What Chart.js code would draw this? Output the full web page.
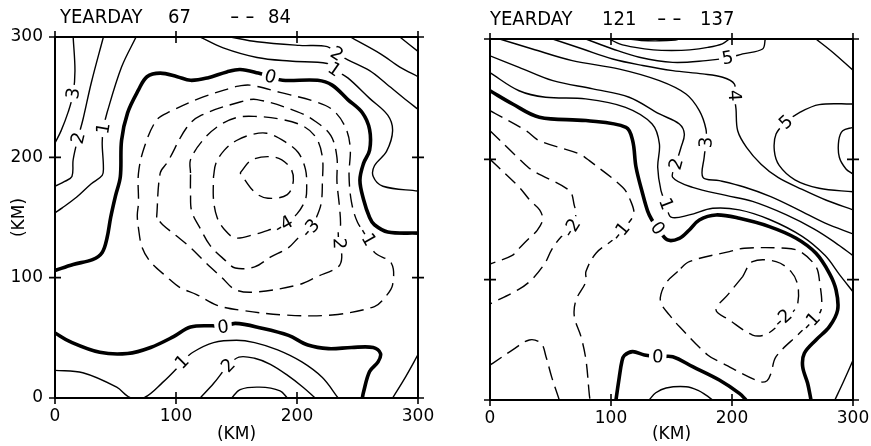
<!DOCTYPE html>
<html>
<head>
<meta charset="utf-8">
<script src="https://cdn.jsdelivr.net/npm/chart.js@4.4.1/dist/chart.umd.min.js"></script>
<style>
  html, body { margin: 0; padding: 0; background: #fff; }
  #wrap { position: relative; width: 871px; height: 446px; overflow: hidden; }
  canvas { position: absolute; top: 0; }
  #left { left: 0; }
  #right { left: 435px; }
</style>
</head>
<body>
<div id="wrap">
  <canvas id="left" width="435" height="446" style="width:435px;height:446px"></canvas>
  <canvas id="right" width="436" height="446" style="width:436px;height:446px"></canvas>
</div>
<script>
// ---------- axes ----------
const tickValues = [0, 100, 200, 300];
const axisTitle = '(KM)';
const leftTitle = ['YEARDAY', '67', '--', '84'];
const rightTitle = ['YEARDAY', '121', '--', '137'];

// ---------- YEARDAY 67 -- 84 : contour lines, [x km, y km] ----------
const L_p3 = [[15,300],[16.5,272],[15,253],[11,238],[5,222],[0,212]];
const L_p2 = [[40,300],[30,262],[23,231],[19,216],[15,198],[14,184],[8,180],[0,176]];
const L_p1 = [[67,300],[55,275],[43,237],[40,224],[39,212],[40,192],[39,185],[30,178],[18,167],[6,158],[0,154]];
const L_z0a = [[0,106],[15,111],[31,115],[39,121],[43,133],[46,150],[50,168],[54,184],[55,214],[60,237],[69,256],[76,267],[87,270],[101,267],[112,264],[126,266],[142,271],[153,273],[168,270],[178,267],[188,264],[217,264],[229,260],[242,248],[254,237],[260,223],[260,206],[255,195],[252,181],[255,165],[260,150],[264,144],[275,138],[300,137]];
const L_z0b = [[0,54],[12,47],[37,38],[60,37],[79,42],[98,51],[112,59],[130,60],[139,59],[149,62],[171,58],[193,52],[209,44],[226,41],[245,42],[263,42],[269,37],[267,30],[260,22],[255,5],[254,0]];
const L_p1b = [[0,23],[23,21],[51,9],[62,0.5],[74,0.5],[89,13],[101,25],[105,30],[114,38],[131,46],[150,48],[165,46],[184,40],[204,30],[221,17],[234,0]];
const L_p2b = [[120,0],[131,12],[143,27],[152,34],[165,33],[178,28],[192,19],[205,9],[215,0]];
const L_p3b = [[146,0],[153,7],[169,9],[186,6],[192,0]];
const L_p1c = [[279,0],[290,18],[300,36]];
const L_p1t = [[120,300],[139,291],[167,283],[194,280],[225,278],[231,273],[242,266],[260,249],[275,235],[279,222],[274,205],[264,193],[263,184],[271,176],[300,172]];
const L_p2t = [[145,300],[167,296],[202,293],[225,292],[233,286],[242,281],[260,272],[274,261],[291,247],[300,240]];
const L_p3t = [[244,300],[269,286],[285,275],[300,267]];
const L_p4t = [[285,300],[300,288]];
const L_n1 = [[150,259],[161,260],[186,254],[216,246],[230,239],[240,225],[244,208],[243,185],[245,163],[250,146],[258,134],[264,121],[278,112],[279,94],[273,84],[264,76],[229,69],[190,69],[153,73],[134,77],[117,86],[103,92],[92,101],[79,113],[72,125],[69,141],[68,152],[69,162],[69,187],[74,209],[84,231],[95,238],[122,250],[150,259]];
const L_n2 = [[84,150],[87,187],[93,196],[109,225],[121,235],[153,246],[167,248],[200,238],[215,230],[228,218],[233,200],[233,180],[235,160],[236,145],[235,131],[237,117],[234,109],[217,101],[201,94],[165,88],[149,90],[138,100],[125,112],[112,125],[100,135],[89,144],[84,150]];
const L_n3 = [[112,187],[112,198],[122,214],[135,226],[150,233],[165,234],[185,232],[205,226],[216,216],[221,200],[221,180],[220,162],[216,150],[211,141],[201,133],[193,125],[178,117],[165,109],[149,108],[140,115],[128,127],[120,141],[113,155],[112,170],[112,187]];
const L_n4 = [[131,184],[133,195],[140,206],[150,214],[163,219],[175,220],[190,213],[201,204],[207,190],[208,175],[207,165],[200,153],[189,144],[178,140],[165,136],[149,133],[140,140],[134,150],[131,165],[131,184]];
const L_n5 = [[153,187],[163,198],[182,200],[194,192],[197,181],[192,169],[176,166],[165,171],[153,187]];

const leftLines = [
  [3, L_p3], [2, L_p2], [1, L_p1], [0, L_z0a], [0, L_z0b], [1, L_p1b], [2, L_p2b],
  [3, L_p3b], [1, L_p1c], [1, L_p1t], [2, L_p2t], [3, L_p3t], [4, L_p4t],
  [-1, L_n1], [-2, L_n2], [-3, L_n3], [-4, L_n4], [-5, L_n5]
];
const leftLabels = [
  [L_p3, 15, 253], [L_p2, 19, 216], [L_p1, 40, 224], [L_z0a, 178, 267],
  [L_p2t, 233, 286], [L_p1t, 231, 273], [L_n4, 189, 144], [L_n3, 211, 141],
  [L_n2, 235, 131], [L_n1, 258, 134], [L_z0b, 139, 59], [L_p1b, 105, 30], [L_p2b, 143, 27]
];

// ---------- YEARDAY 121 -- 137 : contour lines, [x km, y km] ----------
const R_p1 = [[0,272],[24,257],[46,251.6],[79,250.2],[112,243.2],[134,229.4],[140,212.8],[138.6,193.4],[141.3,174],[145.5,163],[149.6,152],[164.7,153.8],[184,159.3],[206,158],[231,150],[258,136],[277,120],[289,104],[300,90]];
const R_p2 = [[0,286],[24,276.5],[52,265.4],[85,258.5],[115,251.6],[140,237.7],[156.5,229.4],[160.6,221],[157.9,210],[153.7,196.1],[151,185],[167.5,176.7],[195,170],[217,165],[244.6,154],[268,142],[285,131],[300,120]];
const R_p3 = [[8,300],[35,291.7],[68,282],[107,275],[140,265.4],[162,254.3],[173,240.5],[178.5,225],[178.5,214],[177,201.7],[176,185],[189.5,182.3],[210,177],[232,169],[255,158],[277,147],[300,138]];
const R_p4 = [[51.8,300],[76.6,291.7],[101.4,283.4],[126.2,278],[151,273.7],[175.8,271],[192.3,268.2],[202,262.6],[202,253],[203.3,241.9],[204.7,223.8],[212,210],[224,196],[238,185],[258,175],[278,166],[300,158]];
const R_p5t = [[79.3,300],[101.4,291.7],[123.4,284.8],[151,280.6],[178.5,282],[196.4,284.3],[208.8,287.6],[225.3,291.7],[227.5,300]];
const R_p5b = [[300,246],[272,245.5],[256,239],[244.6,230.8],[236.4,221],[235,207],[239,195],[252,183],[272,176],[300,173]];
const R_p6t = [[98.6,300],[107,296],[120,293],[135,291],[150,290.5],[165,291],[180,293],[192,296],[197.8,300]];
const R_p7t = [[115,300],[125,298.8],[140,298.5],[153,299.2],[157,300]];
const R_p6r = [[300,226.6],[291.5,223.8],[288.2,215.5],[288.7,201.7],[294.2,192],[300,187.8]];
const R_p4c = [[269.4,300],[283.2,289],[300,274]];
const R_z0a = [[0,257],[18.7,246],[40.8,235],[79.3,232.2],[112.4,226.6],[117.9,215.5],[120.7,193.4],[126.2,171.2],[130.3,157],[133.6,150],[138.6,142.7],[146.8,133],[156.5,134.4],[164.7,141.3],[173,149.6],[186.8,153.8],[206.1,151],[230.9,144.1],[253,134.4],[269.4,121.9],[280.5,105.3],[286,91.4],[287.3,74.8],[280.5,61],[269.4,49.9],[259.8,38.8],[258.4,27.7],[262.5,13.9],[265.3,0]];
const R_z0b = [[104.1,0],[106.9,19.4],[109,32],[111,37],[117.9,40.2],[127.6,37.4],[138.6,36],[151,36],[167.5,27.7],[189.5,16.6],[206.1,5.5],[211.6,0]];
const R_p1s = [[131.5,0],[137,6],[145.5,10],[162,11],[172,8],[178.5,4],[184,0]];
const R_p1r = [[285,0],[292,15],[300,33]];
const R_n1a = [[0,240.5],[29.8,223.8],[40.8,215.5],[73.8,204.5],[82.1,198.9],[109.6,176.7],[116,166],[118.6,154],[108,140],[101.4,133],[87.6,122],[79.3,106.7],[79.3,98.4],[71.1,83.1],[69.7,69.3],[75.2,52.7],[79.3,33.3],[82.1,4.2],[82.7,0]];
const R_n2a = [[0,223.8],[24.2,200.3],[35.3,190.6],[65.6,174],[69.7,161.5],[71,154.6],[67.5,143],[59.2,136],[51,125],[45.5,113.8],[34.4,100],[23.4,91.7],[1.4,80.6],[0,80]];
const R_n3a = [[0,200],[24,177],[33,166],[41,158],[43.5,150],[39,141],[33,135],[25,127],[18,120],[0,113]];
const R_n2c = [[0,29],[2.2,30.5],[18.7,41.6],[32.5,49.9],[42.2,47.1],[46.3,36],[51,19],[57.3,0]];
const R_n1b = [[155.1,106.7],[146,98],[141.3,88],[141.3,80.4],[148.2,70.7],[156.5,61],[179.9,37.4],[192.3,30.5],[222.6,15.3],[229,16],[232.2,22.2],[236.4,36],[255.7,55.4],[265.3,65.1],[273.6,74.8],[272.2,99.8],[269.4,110.8],[257,123],[244.6,126.1],[210.2,126.1],[197.8,123.3],[164.7,115],[155.1,106.7]];
const R_n2b = [[208.8,102.5],[197,88],[186.8,74.8],[197.8,66.5],[217,54],[226.7,54],[236,60],[241.9,67.9],[250,73],[254.3,80],[254.3,95.6],[248.8,106.7],[236.4,115],[217,115],[208.8,102.5]];

const rightLines = [
  [1, R_p1], [2, R_p2], [3, R_p3], [4, R_p4], [5, R_p5t], [5, R_p5b], [6, R_p6t], [7, R_p7t],
  [6, R_p6r], [4, R_p4c], [0, R_z0a], [0, R_z0b], [1, R_p1s], [1, R_p1r],
  [-1, R_n1a], [-2, R_n2a], [-3, R_n3a], [-2, R_n2c], [-1, R_n1b], [-2, R_n2b]
];
const rightLabels = [
  [R_p5t, 196.4, 284.3], [R_p4, 202, 253], [R_p5b, 244.6, 230.8], [R_p3, 178.5, 214],
  [R_p2, 153.7, 196.1], [R_p1, 145.5, 163], [R_z0a, 138.6, 142.7], [R_n2a, 67.5, 143],
  [R_n1a, 108, 140], [R_z0b, 138.6, 36], [R_n2b, 241.9, 67.9], [R_n1b, 265.3, 65.1]
];

// ---------- drawing ----------
const FONT = "'DejaVu Sans', 'Liberation Sans', sans-serif";
const TITLE_FONT = "'DejaVu Sans Condensed', 'DejaVu Sans', sans-serif";

function buildDatasets(lines) {
  return lines.map(([level, pts]) => ({
    data: pts.map(([x, y]) => ({ x, y })),
    showLine: true,
    pointRadius: 0,
    pointHoverRadius: 0,
    borderColor: '#000',
    borderWidth: level === 0 ? 3.6 : 1.4,
    borderDash: level < 0 ? [14, 7] : [],
    borderCapStyle: 'butt',
    borderJoinStyle: 'round',
    tension: 0.35,
    fill: false,
    clip: 0
  }));
}

function levelOf(lines, pts) {
  const hit = lines.find(([, p]) => p === pts);
  return hit ? hit[0] : 0;
}

// direction of the contour near (px, py), in pixels
function labelAngle(xs, ys, pts, px, py) {
  let bi = 0, bd = Infinity;
  pts.forEach(([x, y], i) => {
    const d = Math.hypot(xs.getPixelForValue(x) - px, ys.getPixelForValue(y) - py);
    if (d < bd) { bd = d; bi = i; }
  });
  const a = pts[Math.max(0, bi - 1)], b = pts[Math.min(pts.length - 1, bi + 1)];
  let ang = Math.atan2(ys.getPixelForValue(b[1]) - ys.getPixelForValue(a[1]),
                       xs.getPixelForValue(b[0]) - xs.getPixelForValue(a[0]));
  if (ang > Math.PI / 2) ang -= Math.PI;
  if (ang < -Math.PI / 2) ang += Math.PI;
  return ang;
}

const framePlugin = {
  id: 'frame',
  afterDatasetsDraw(chart, args, opts) {
    const { ctx, chartArea: a } = chart;
    const xs = chart.scales.x, ys = chart.scales.y;
    ctx.save();

    // contour labels, the line is blanked under each one
    ctx.font = '18px ' + FONT;
    ctx.textAlign = 'center';
    ctx.textBaseline = 'middle';
    opts.labels.forEach(([pts, x, y]) => {
      const text = String(levelOf(opts.lines, pts));
      const px = xs.getPixelForValue(x), py = ys.getPixelForValue(y);
      const ang = labelAngle(xs, ys, pts, px, py);
      const w = ctx.measureText(text).width;
      ctx.save();
      ctx.translate(px, py);
      ctx.rotate(ang);
      ctx.fillStyle = '#fff';
      ctx.fillRect(-w / 2 - 3, -8, w + 6, 16);
      ctx.fillStyle = '#000';
      ctx.fillText(text, 0, 1);
      ctx.restore();
    });

    // frame and crossing tick marks on all four sides
    ctx.strokeStyle = '#000';
    ctx.lineWidth = 2;
    ctx.strokeRect(a.left, a.top, a.right - a.left, a.bottom - a.top);
    ctx.lineWidth = 1.6;
    ctx.beginPath();
    tickValues.forEach(v => {
      const px = xs.getPixelForValue(v), py = ys.getPixelForValue(v);
      ctx.moveTo(px, a.top - 6); ctx.lineTo(px, a.top + 6);
      ctx.moveTo(px, a.bottom - 6); ctx.lineTo(px, a.bottom + 6);
      ctx.moveTo(a.left - 6, py); ctx.lineTo(a.left + 6, py);
      ctx.moveTo(a.right - 6, py); ctx.lineTo(a.right + 6, py);
    });
    ctx.stroke();

    // heading; the double dash is drawn a little wider
    ctx.fillStyle = '#000';
    ctx.font = '20px ' + TITLE_FONT;
    ctx.textAlign = 'left';
    ctx.textBaseline = 'alphabetic';
    opts.title.forEach((t, i) => {
      ctx.save();
      ctx.translate(a.left + opts.offsets[i], a.top - 14);
      if (t === '--') { ctx.letterSpacing = '4px'; ctx.scale(1.45, 1); }
      ctx.fillText(t, 0, 0);
      ctx.restore();
    });
    ctx.restore();
  }
};

function makeChart(id, lines, labels, title, offsets, pad, showYLabels, xHeight) {
  const tickFont = { family: FONT, size: 17 };
  return new Chart(document.getElementById(id), {
    type: 'scatter',
    data: { datasets: buildDatasets(lines) },
    options: {
      responsive: false,
      animation: false,
      events: [],
      layout: { padding: pad },
      plugins: {
        legend: { display: false },
        tooltip: { enabled: false },
        frame: { lines, labels, title, offsets }
      },
      scales: {
        x: {
          type: 'linear', min: 0, max: 300,
          afterBuildTicks: s => { s.ticks = tickValues.map(v => ({ value: v })); },
          grid: { display: false, drawTicks: false },
          border: { display: false },
          ticks: { color: '#000', font: tickFont, padding: 8, maxRotation: 0, autoSkip: false },
          title: { display: true, text: axisTitle, color: '#000', font: tickFont, padding: { top: 0, bottom: 1 } },
          afterFit: s => { s.height = xHeight; s.paddingLeft = 0; s.paddingRight = 0; }
        },
        y: {
          type: 'linear', min: 0, max: 300,
          afterBuildTicks: s => { s.ticks = tickValues.map(v => ({ value: v })); },
          grid: { display: false, drawTicks: false },
          border: { display: false },
          ticks: { display: showYLabels, color: '#000', font: tickFont, padding: 12, autoSkip: false },
          title: { display: showYLabels, text: axisTitle, color: '#000', font: tickFont, padding: { top: 9, bottom: 0 } },
          afterFit: s => { s.width = 55; s.paddingTop = 0; s.paddingBottom = 0; }
        }
      }
    },
    plugins: [framePlugin]
  });
}

makeChart('left', leftLines, leftLabels, leftTitle, [5, 113, 175, 213],
          { top: 37, right: 17, left: 0, bottom: 0 }, true, 48);
makeChart('right', rightLines, rightLabels, rightTitle, [0, 112, 167, 210],
          { top: 39, right: 18, left: 0, bottom: 0 }, false, 46);
</script>
</body>
</html>
